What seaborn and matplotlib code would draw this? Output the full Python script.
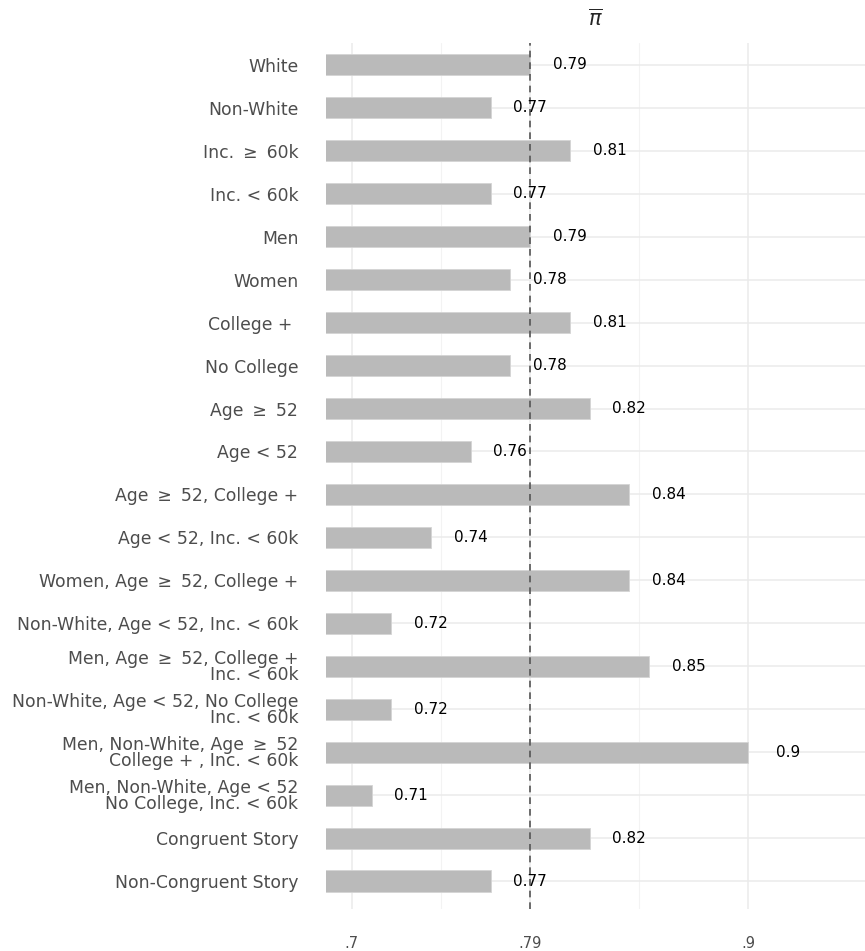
import pandas as pd
import seaborn as sns
import matplotlib.pyplot as plt

# Datos del gráfico
grupos = [
    "White",
    "Non-White",
    "Inc. \u2009≥\u2009 60k",
    "Inc. < 60k",
    "Men",
    "Women",
    "College + ",
    "No College",
    "Age \u2009≥\u2009 52",
    "Age < 52",
    "Age \u2009≥\u2009 52, College +",
    "Age < 52, Inc. < 60k",
    "Women, Age \u2009≥\u2009 52, College +",
    "Non-White, Age < 52, Inc. < 60k",
    "Men, Age \u2009≥\u2009 52, College +\nInc. < 60k",
    "Non-White, Age < 52, No College\nInc. < 60k",
    "Men, Non-White, Age \u2009≥\u2009 52\nCollege + , Inc. < 60k",
    "Men, Non-White, Age < 52\nNo College, Inc. < 60k",
    "Congruent Story",
    "Non-Congruent Story",
]
valores = [0.79, 0.77, 0.81, 0.77, 0.79, 0.78, 0.81, 0.78, 0.82, 0.76,
           0.84, 0.74, 0.84, 0.72, 0.85, 0.72, 0.90, 0.71, 0.82, 0.77]
etiquetas = ["0.79", "0.77", "0.81", "0.77", "0.79", "0.78", "0.81", "0.78", "0.82", "0.76",
             "0.84", "0.74", "0.84", "0.72", "0.85", "0.72", "0.9", "0.71", "0.82", "0.77"]
media = 0.79
ticks_x = [0.7, 0.79, 0.9]
ticks_x_lab = [".7", ".79", ".9"]
ticks_minor = [0.745, 0.845]

df = pd.DataFrame({"grupo": grupos, "valor": valores, "etiqueta": etiquetas})

sns.set_style("white")
plt.rcParams['font.family'] = ['DejaVu Sans']

fig = plt.figure(figsize=(8.65, 9.51), dpi=100)
ax = fig.add_axes([0.377, 0.044, 0.623, 0.911])

sns.barplot(data=df, x="valor", y="grupo", orient="h", color="#bababa",
            saturation=1, width=0.5, edgecolor="#d4d4d4", linewidth=0.6,
            ax=ax, zorder=2)

# etiquetas de valor
for i, row in df.iterrows():
    ax.text(row["valor"] + 0.02, i, row["etiqueta"], ha="center", va="center",
            fontsize=11, color="black", zorder=4)

ax.axvline(media, color="#555555", linestyle=(0, (4, 3)), linewidth=1.2, zorder=3)

ax.set_xlim(0.687, 0.959)
ax.set_ylim(len(grupos) - 1 + 0.65, -0.51)
ax.set_xticks(ticks_x)
ax.set_xticklabels(ticks_x_lab)
ax.set_xticks(ticks_minor, minor=True)

ax.grid(which="major", axis="both", color="#ebebeb", linewidth=1.1, zorder=0)
ax.grid(which="minor", axis="x", color="#f3f3f3", linewidth=0.8, zorder=0)
ax.set_axisbelow(True)

ax.tick_params(axis="y", length=0, pad=20, labelsize=12.4, labelcolor="#4d4d4d")
ax.tick_params(axis="x", which="both", length=0, pad=19, labelsize=10.5, labelcolor="#4d4d4d")
for lab in ax.get_yticklabels():
    lab.set_linespacing(0.85)

for s in ax.spines.values():
    s.set_visible(False)

ax.set_xlabel("")
ax.set_ylabel("")
ax.set_title(r"$\overline{\pi}$", fontsize=15, pad=12)

plt.savefig("out.png", dpi=100)
